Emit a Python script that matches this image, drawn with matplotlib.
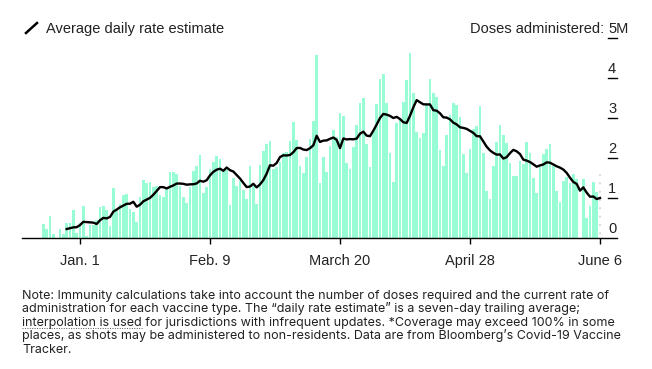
import numpy as np
import pandas as pd
import matplotlib.pyplot as plt
import matplotlib.transforms as mtransforms

plt.rcParams['font.family'] = ['Liberation Sans', 'DejaVu Sans']

# daily doses administered, millions, starting Dec. 21, 2020
start_date = '2020-12-21'
daily_doses = [
    0.35, 0.23, 0.55, 0.10, 0.00, 0.22, 0.10,
    0.37, 0.38, 0.69, 0.13, 0.37, 0.79, 0.05,
    0.33, 0.33, 0.45, 0.78, 0.79, 0.70, 0.30,
    1.26, 0.69, 0.85, 1.08, 1.10, 0.72, 0.64,
    0.40, 1.03, 1.45, 1.37, 1.41, 1.27, 1.30,
    1.07, 1.03, 1.22, 1.66, 1.65, 1.60, 1.30,
    1.02, 0.88, 1.28, 1.68, 1.79, 2.07, 1.13,
    1.28, 1.73, 1.90, 2.05, 1.97, 1.70, 1.70,
    0.82, 1.49, 1.30, 1.43, 1.20, 0.97, 1.80,
    1.30, 0.86, 1.82, 2.18, 2.34, 2.43, 1.72,
    1.78, 1.90, 2.12, 2.15, 2.43, 2.91, 2.45,
    1.80, 1.62, 2.03, 2.48, 2.93, 4.58, 1.37,
    2.03, 1.66, 2.31, 2.70, 2.53, 3.13, 3.05,
    1.87, 1.72, 2.27, 2.83, 3.38, 3.49, 2.35,
    1.78, 2.68, 3.35, 3.97, 4.09, 3.37, 2.13,
    1.41, 2.88, 2.97, 3.41, 3.96, 4.63, 3.62,
    2.66, 2.50, 2.62, 3.38, 3.97, 3.62, 3.53,
    2.20, 1.80, 2.57, 3.08, 3.38, 3.32, 3.02,
    2.10, 1.63, 2.23, 2.72, 2.80, 3.30, 2.12,
    1.18, 0.98, 1.80, 2.41, 2.83, 2.58, 2.37,
    1.88, 1.55, 1.55, 1.93, 1.85, 2.41, 2.12,
    1.49, 1.13, 1.77, 2.10, 2.22, 2.35, 1.80,
    1.18, 0.90, 1.43, 1.52, 1.37, 1.60, 1.47,
    0.00, 1.47, 0.51, 0.81, 1.40, 1.16,
]
# last day (June 6) is an estimate, drawn hatched
estimate_last = 1.65

tick_dates = ['2021-01-01', '2021-02-09', '2021-03-20', '2021-04-28', '2021-06-06']
tick_labels = ['Jan. 1', 'Feb. 9', 'March 20', 'April 28', 'June 6']
y_labels = [1, 2, 3, 4, 5]

note_lines = [
    "Note: Immunity calculations take into account the number of doses required and the current rate of",
    "administration for each vaccine type. The \u201cdaily rate estimate\u201d is a seven-day trailing average;",
    "interpolation is used for jurisdictions with infrequent updates. *Coverage may exceed 100% in some",
    "places, as shots may be administered to non-residents. Data are from Bloomberg\u2019s Covid-19 Vaccine",
    "Tracker.",
]

dates = pd.date_range(start_date, periods=len(daily_doses) + 1)
series = pd.Series(daily_doses + [estimate_last], index=dates)
avg = series.rolling(7).mean().iloc[7:]

W, H = 652, 369
fig = plt.figure(figsize=(W / 100, H / 100), dpi=100)
ax = fig.add_axes([22 / W, 1 - 238 / H, 595 / W, 202 / H])

bar_color = '#98fcd4'
ax.bar(dates[:-1], daily_doses, width=0.8, color=bar_color, linewidth=0)
ax.bar(dates[-1:], [estimate_last], width=0.8, color='white', edgecolor='#d8d8d8',
       hatch='....', linewidth=0)
ax.plot(avg.index, avg.values, color='black', lw=1.7, solid_joinstyle='round')

x0 = dates[0] - pd.Timedelta(days=6.4)
x1 = dates[0] + pd.Timedelta(days=172.1)
ax.set_xlim(x0, x1)
ax.set_ylim(0, 202 / 40)

for s in ['top', 'left', 'right']:
    ax.spines[s].set_visible(False)
ax.spines['bottom'].set_linewidth(1.0)
ax.set_yticks([])
ax.set_xticks(pd.to_datetime(tick_dates))
ax.set_xticklabels(tick_labels, fontsize=10.5, color='#222222')
ax.tick_params(axis='x', direction='out', length=4.5, width=1, pad=7)

# right-side value labels with short underlines
trans = mtransforms.blended_transform_factory(fig.transFigure, ax.transData)
lx = 608 / W
for v in y_labels:
    ax.plot([lx, 617 / W], [v, v], transform=trans, color='black', lw=1, clip_on=False)
    txt = '5M' if v == 5 else str(v)
    ax.text(lx, v + 0.06, txt, transform=trans, ha='left', va='bottom', fontsize=10.5,
            color='#222222')
ax.text(lx, 0.06, '0', transform=trans, ha='left', va='bottom', fontsize=10.5, color='#222222')
ax.text(lx - 4 / W, 5 + 0.06, 'Doses administered:', transform=trans, ha='right',
        va='bottom', fontsize=10.5, color='#222222')

# legend
fig.add_artist(plt.Line2D([26 / W, 37 / W], [1 - 33 / H, 1 - 23 / H], color='black', lw=1.8))
fig.text(46 / W, 1 - 29 / H, 'Average daily rate estimate', ha='left', va='center',
         fontsize=10.5, color='#222222')

# note
note_font = dict(fontsize=9.0, family=['Inter', 'DejaVu Sans'], color='#222222')
base0, step = 299, 13.4
for k, line in enumerate(note_lines):
    fig.text(22 / W, 1 - (base0 + step * k) / H, line, ha='left', va='baseline', **note_font)

fig.canvas.draw()
probe = fig.text(22 / W, 1 - (base0 + step * 2) / H, 'interpolation is used', ha='left',
                 va='baseline', alpha=0, **note_font)
bb = probe.get_window_extent(fig.canvas.get_renderer())
yline = 1 - (base0 + step * 2 + 2.5) / H
fig.add_artist(plt.Line2D([bb.x0 / W, bb.x1 / W], [yline, yline], color='#555555',
                          lw=0.7, linestyle=(0, (1, 1.5))))

fig.savefig('out.png', dpi=100)
